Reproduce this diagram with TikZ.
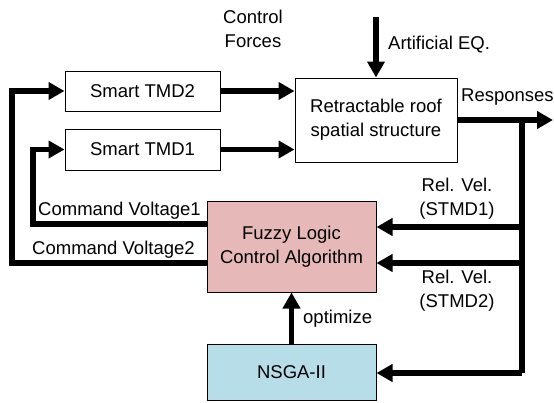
\documentclass[tikz,border=0pt]{standalone}
\usepackage{fontspec}
\setmainfont{Liberation Sans}
\usetikzlibrary{arrows.meta}
\definecolor{fuzzyfill}{HTML}{E6B9B8}
\definecolor{nsgafill}{HTML}{B7DEE8}
\begin{document}
\begin{tikzpicture}[x=1pt,y=-1pt,
  txt/.style={font=\fontsize{18.5}{24}\selectfont, align=center, inner sep=0pt},
  box/.style={draw, line width=1pt, txt, minimum width=#1},
  conn/.style={line width=5.3pt, -{Triangle[length=16pt,width=17pt]}},
  bus/.style={line width=5.3pt}
]
\useasboundingbox (0,0) rectangle (554,402);
% boxes
\node[box=155pt, minimum height=40pt] (tmd2) at (142.5,91) {Smart TMD2};
\node[box=155pt, minimum height=41pt] (tmd1) at (142.5,149.5) {Smart TMD1};
\node[box=162pt, minimum height=84pt] (roof) at (376,120) {Retractable roof\\spatial structure};
\node[box=169pt, minimum height=91pt, fill=fuzzyfill] (fuzzy) at (291.5,246.5) {Fuzzy Logic\\Control Algorithm};
\node[box=169pt, minimum height=56pt, fill=nsgafill] (nsga) at (291.5,372.5) {NSGA-II};
% coordinates
\coordinate (eqtop) at (376,17);
\coordinate (resp) at (553,120);
\coordinate (busT) at (522,120);
\coordinate (busB) at (522,373);
\coordinate (rv1) at (522,227);
\coordinate (rv2) at (522,263);
\coordinate (cv1) at (33,224);
\coordinate (cv2) at (12,263);
% connectors
\draw[conn] (tmd2.east) -- (tmd2.east -| roof.west);
\draw[conn] (tmd1.east) -- (tmd1.east -| roof.west);
\draw[conn] (eqtop) -- (roof.north);
\draw[conn] (roof.east) -- (resp);
\draw[bus] (busT) -- (busB);
\draw[conn] (rv1) -- (rv1 -| fuzzy.east);
\draw[conn] (rv2) -- (rv2 -| fuzzy.east);
\draw[conn] (busB) -- (busB -| nsga.east);
\draw[conn] (nsga.north) -- (fuzzy.south);
\draw[conn] (cv1 -| fuzzy.west) -- (cv1) -- (cv1 |- tmd1.west) -- (tmd1.west);
\draw[conn] (cv2 -| fuzzy.west) -- (cv2) -- (cv2 |- tmd2.west) -- (tmd2.west);
% labels
\node[txt] (lcf) at (253,29) {Control\\Forces};
\node[txt, anchor=west] (leq) at (388,45) {Artificial EQ.};
\node[txt, anchor=west] (lresp) at (461,97) {Responses};
\node[txt] (lrv1) at (457,199) {Rel. Vel.\\(STMD1)};
\node[txt] (lrv2) at (457,291) {Rel. Vel.\\(STMD2)};
\node[txt, anchor=west] (lopt) at (303,319) {optimize};
\node[txt, anchor=west] (lcv1) at (38,211) {Command Voltage1};
\node[txt, anchor=west] (lcv2) at (32,250) {Command Voltage2};
\end{tikzpicture}
\end{document}
